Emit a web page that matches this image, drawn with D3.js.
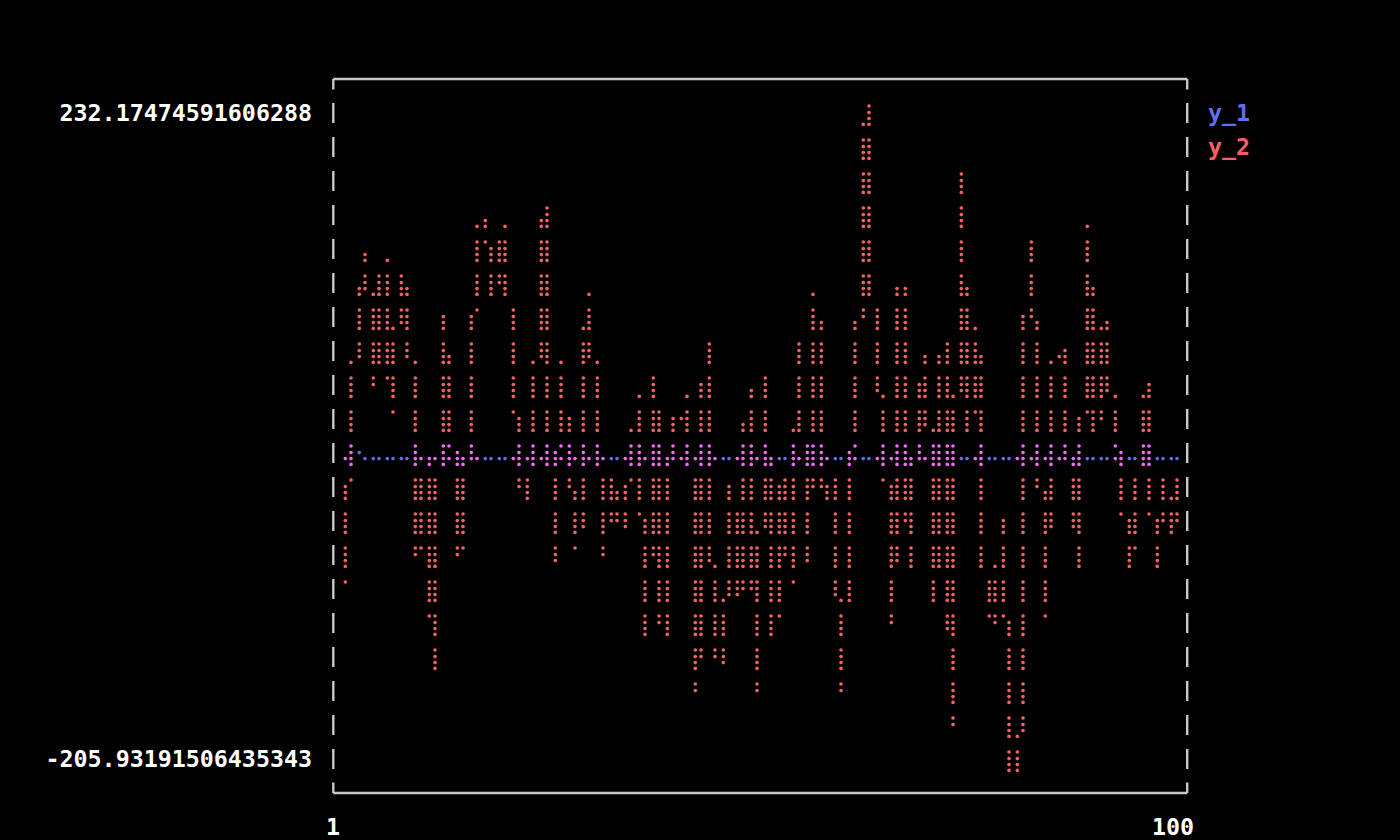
<!DOCTYPE html>
<html>
<head>
<meta charset="utf-8">
<script src="https://cdn.jsdelivr.net/npm/d3@7"></script>
<style>
  html, body { margin: 0; background: #000; }
  svg { display: block; }
  text { font-family: "DejaVu Sans Mono", monospace; font-weight: bold; font-size: 23.3px; }
</style>
</head>
<body>
<script>
// ---- data ----
const xs = d3.range(1, 101);

const y1 = [
   0.6, -0.8,  4.9,  1.2, -1.5,  0.3, -0.4,  1.1, -2.1,  0.7,
   0.2, -1.0,  1.6, -0.6,  0.9, -1.8,  0.4,  1.3, -0.2, -1.1,
   0.8,  1.9, -0.7,  0.1, -2.4,  1.0, -0.3,  0.5,  1.4, -1.3,
   0.0, -0.9,  1.7,  0.6, -1.6,  0.3,  1.1, -0.5, -2.0,  0.9,
   0.4, -1.2,  1.5, -0.1,  0.7, -2.6,  1.2,  0.2, -0.8,  1.8,
  -0.4,  0.6, -1.4,  1.0,  0.3, -0.6, -1.9,  1.3,  0.5, -0.2,
   0.8, -1.1,  1.6, -0.7,  0.1,  1.2, -2.2,  0.4, -0.3,  0.9,
   1.4, -1.0,  0.2, -0.5,  1.1, -1.7,  0.6,  0.0, -0.9,  1.5,
  -0.4,  0.7, -1.3,  1.9,  0.3, -0.8,  1.0, -2.3,  0.5,  1.2,
  -0.6,  0.2, -1.5,  0.8,  1.3, -0.2, -1.0,  0.6,  1.7, -0.4
];

const y2 = [
  -77.2,   -0.6,   98.0,  130.9,   48.7,  125.4,   32.3,  119.9,  103.5,  -60.8,
   -0.6, -137.5,   92.5,   26.8,  -60.8,    4.9,  141.8,  152.8,  103.5,  147.3,
   92.5,  -11.5,  -28.0,   48.7,  163.7,  -66.3,   59.7,  -10.2,  -55.3,  103.5,
   48.7,  -60.8,  -12.6,  -44.4,  -11.0,   37.8, -115.6,   54.2, -115.6,   26.8,
   26.8,   37.8, -148.4,   76.1, -121.1, -132.0,  -17.0,  -88.2,   43.2, -148.4,
   54.2, -115.6,  -12.1,  -77.2,   76.1,  -66.3,  103.5,  -28.0,  -10.9, -148.4,
  -11.8,   81.6,  232.17474591606288,  48.7,  37.8, -104.6,  109.0,  -71.8,   37.8,   65.2,
  -93.7,   76.1, -170.3,  185.6,   15.9,   81.6,  -93.7, -104.6,  -38.9, -205.93191506435343,
 -186.8,  141.8,   65.2,  -99.1,   59.7,   70.6,  -12.3,  -71.8,  147.3,   15.9,
   87.1,   26.8,  -10.6,  -71.8,  -11.9,   48.7,  -71.8,  -10.8,  -49.9,  -11.4
];

const seriesNames = ["y_1", "y_2"];
const yTickLabels = ["232.17474591606288", "-205.93191506435343"];
const xTickLabels = ["1", "100"];

// ---- layout (terminal character grid) ----
const COLS = 60, ROWS = 20;
const PX_W = COLS * 2, PX_H = ROWS * 4;

const cellX = d3.scaleLinear().domain([0, COLS]).range([340, 1180]);
const cellY = d3.scaleLinear().domain([0, ROWS]).range([96, 776]);
const dotDX = [5.3, 11];
const dotDY = [10, 16.6, 22.6, 28.4];

const colors = { 1: "#5f6ffa", 2: "#fa6262", 3: "#f86af8" };

const x = d3.scaleLinear().domain(d3.extent(xs)).range([0, PX_W]);
const y = d3.scaleLinear().domain(d3.extent(y1.concat(y2))).range([PX_H, 0]);

// ---- braille canvas ----
const dots = new Map();
const cellBits = new Map();

function pixel(px, py, bit) {
  if (px < 0 || px > PX_W || py < 0 || py > PX_H) return;
  if (px >= PX_W) px = PX_W - 1;
  if (py >= PX_H) py = PX_H - 1;
  const k = px + "," + py;
  dots.set(k, { px, py });
  const ck = Math.floor(px / 2) + "," + Math.floor(py / 4);
  cellBits.set(ck, (cellBits.get(ck) || 0) | bit);
}

function segment(xa, ya, xb, yb, bit) {
  let cx = x(xa), cy = y(ya);
  const dx = x(xb) - cx, dy = y(yb) - cy;
  const n = Math.max(Math.abs(dx), Math.abs(dy));
  pixel(Math.floor(cx), Math.floor(cy), bit);
  for (let i = 1; i <= n; i++) {
    cx += dx / n; cy += dy / n;
    pixel(Math.floor(cx), Math.floor(cy), bit);
  }
}

[y1, y2].forEach((ys, s) => {
  for (let i = 0; i < xs.length - 1; i++) {
    segment(xs[i], ys[i], xs[i + 1], ys[i + 1], 1 << s);
  }
});

const dotData = Array.from(dots.values()).map(d => {
  const bits = cellBits.get(Math.floor(d.px / 2) + "," + Math.floor(d.py / 4));
  return {
    cx: cellX(Math.floor(d.px / 2)) + dotDX[d.px % 2],
    cy: cellY(Math.floor(d.py / 4)) + dotDY[d.py % 4],
    color: colors[bits]
  };
});

// ---- draw ----
const svg = d3.select("body").append("svg")
  .attr("width", 1400).attr("height", 840);

svg.append("rect").attr("width", 1400).attr("height", 840).attr("fill", "#000");

// frame drawn as box characters would appear
const bx0 = 333.3, bx1 = 1187.2;
const rowC = r => cellY(r) + 17;
const frame = d3.path();
frame.moveTo(bx0, rowC(-1)); frame.lineTo(bx1, rowC(-1));
frame.moveTo(bx0, rowC(20)); frame.lineTo(bx1, rowC(20));
[bx0, bx1].forEach(bx => {
  frame.moveTo(bx, rowC(-1)); frame.lineTo(bx, rowC(-1) + 10.5);
  d3.range(ROWS).forEach(r => { frame.moveTo(bx, rowC(r) - 10); frame.lineTo(bx, rowC(r) + 10); });
  frame.moveTo(bx, rowC(20) - 10.5); frame.lineTo(bx, rowC(20));
});
svg.append("path").attr("d", frame.toString())
  .attr("stroke", "#c8c8c8").attr("stroke-width", 2.4).attr("fill", "none");

svg.append("g").selectAll("circle").data(dotData).join("circle")
  .attr("cx", d => d.cx).attr("cy", d => d.cy).attr("r", 1.8)
  .attr("fill", d => d.color);

// y labels
svg.append("text").attr("x", 312).attr("y", rowC(0) + 8).attr("text-anchor", "end")
  .attr("fill", "#fff").text(yTickLabels[0]);
svg.append("text").attr("x", 312).attr("y", rowC(19) + 8).attr("text-anchor", "end")
  .attr("fill", "#fff").text(yTickLabels[1]);

// x labels
svg.append("text").attr("x", 326).attr("y", rowC(21) + 8)
  .attr("fill", "#fff").text(xTickLabels[0]);
svg.append("text").attr("x", 1194).attr("y", rowC(21) + 8).attr("text-anchor", "end")
  .attr("fill", "#fff").text(xTickLabels[1]);

// legend
seriesNames.forEach((n, i) => {
  svg.append("text").attr("x", 1208).attr("y", rowC(i) + 8)
    .attr("fill", colors[1 << i]).text(n);
});
</script>
</body>
</html>
